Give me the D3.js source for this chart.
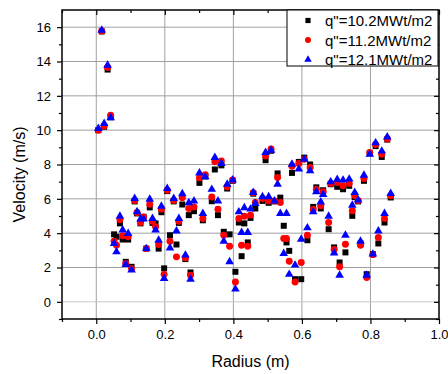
<!DOCTYPE html>
<html>
<head>
<meta charset="utf-8">
<script src="https://cdn.jsdelivr.net/npm/d3@7"></script>
<style>
  body { margin: 0; background: #fff; }
  svg text { font-family: "Liberation Sans", Arial, sans-serif; fill: #000; }
  .axis path { display: none; }
  .axis line { stroke: #000; stroke-width: 1.2; }
  .axis text { font-size: 13px; }
</style>
</head>
<body>
<div id="chart"></div>
<script>
// radius (m), shared by the three heat flux series
const radius = [0.006,0.016,0.023,0.033,0.042,0.052,0.059,0.069,0.077,0.086,
  0.093,0.103,0.112,0.119,0.129,0.138,0.146,0.156,0.164,0.173,
  0.182,0.19,0.198,0.207,0.215,0.226,0.234,0.241,0.251,0.26,
  0.27,0.275,0.285,0.301,0.311,0.318,0.337,0.346,0.355,0.365,
  0.372,0.382,0.389,0.398,0.406,0.416,0.424,0.432,0.442,0.45,
  0.458,0.464,0.485,0.494,0.503,0.51,0.52,0.529,0.537,0.547,
  0.555,0.563,0.571,0.58,0.591,0.598,0.607,0.616,0.624,0.633,
  0.642,0.655,0.662,0.678,0.684,0.694,0.703,0.71,0.72,0.727,
  0.738,0.747,0.754,0.764,0.771,0.781,0.789,0.798,0.807,0.815,
  0.823,0.833,0.841,0.849,0.859];
// velocity (m/s), q"=10.2 MWt/m2
const v102 = [10.0,15.75,10.2,13.53,10.75,3.93,3.79,4.57,3.63,2.33,
  3.63,2.04,5.85,5.15,4.57,4.95,3.1,5.5,4.6,4.57,
  3.1,5.22,1.95,6.45,3.88,5.85,3.34,4.6,5.67,2.49,
  5.05,1.71,5.28,6.93,4.75,7.3,5.86,7.71,5.05,7.95,
  4.08,6.6,3.93,7.05,1.75,4.62,2.66,4.57,3.46,4.89,
  6.3,5.44,5.88,8.25,5.77,8.8,5.85,7.48,6.07,4.43,
  3.46,2.97,7.51,1.32,8.15,1.32,8.4,3.59,8.0,5.53,
  6.67,5.44,6.5,4.23,6.85,3.17,6.7,2.29,6.56,2.88,
  6.76,5.01,6.1,5.85,3.4,7.05,1.61,8.65,2.78,9.07,
  3.4,8.44,4.62,9.45,6.08];
// velocity (m/s), q"=11.2 MWt/m2
const v112 = [10.0,15.78,10.25,13.65,10.87,3.53,3.3,4.78,3.85,2.24,
  3.79,1.95,5.9,5.2,4.62,4.95,3.1,5.68,4.7,4.37,
  3.34,5.4,1.6,6.5,3.53,5.9,2.62,4.7,6.06,2.56,
  5.44,1.55,5.53,7.22,4.86,7.4,6.11,8.16,5.4,8.2,
  3.88,6.7,3.24,7.1,1.16,4.86,3.3,4.99,3.24,5.05,
  6.35,5.79,6.02,8.5,5.88,8.9,5.88,7.24,5.79,3.69,
  3.69,2.37,7.9,1.16,8.06,2.29,8.3,3.88,7.83,5.38,
  6.55,5.59,6.41,4.62,6.9,3.05,6.95,2.04,6.76,3.36,
  6.9,5.3,6.2,5.9,3.3,7.18,1.42,8.7,2.75,9.17,
  3.75,8.6,4.86,9.48,6.18];
// velocity (m/s), q"=12.1 MWt/m2
const v121 = [10.1,15.82,10.39,13.78,10.72,3.4,2.91,4.99,4.18,2.18,
  3.98,1.85,6.02,5.25,4.82,4.82,3.1,5.98,4.86,4.18,
  3.59,5.57,1.36,6.6,3.14,6.02,4.13,4.86,6.3,2.72,
  5.77,1.32,5.88,7.51,5.15,7.28,6.55,8.41,5.88,8.06,
  3.53,6.85,2.33,7.1,0.74,5.24,4.04,5.48,4.04,5.4,
  6.37,5.73,6.12,8.7,6.12,8.83,5.88,6.85,5.15,2.82,
  5.15,1.6,8.02,2.14,7.73,3.65,8.3,4.31,7.63,5.24,
  6.41,5.82,6.25,4.99,6.99,2.85,7.13,1.55,7.09,3.88,
  7.15,5.63,6.37,5.93,3.53,7.38,1.55,8.6,2.78,9.26,
  4.13,8.78,5.15,9.6,6.31];

const seriesNames = ['q"=10.2MWt/m2', 'q"=11.2MWt/m2', 'q"=12.1MWt/m2'];
const seriesColors = ['#000000', '#ff0000', '#0000ff'];
const seriesSymbols = [d3.symbolSquare, d3.symbolCircle, d3.symbolTriangle];
const seriesSizes = [36, 38, 32];
const xTicks = [0.0, 0.2, 0.4, 0.6, 0.8, 1.0];
const yTicks = [0, 2, 4, 6, 8, 10, 12, 14, 16];

const width = 448, height = 374;
const mLeft = 62, mRight = 439, mTop = 10, mBottom = 319;

const svg = d3.select('#chart').append('svg')
  .attr('width', width).attr('height', height);

const x = d3.scaleLinear().domain([-0.1, 1.0]).range([mLeft, mRight]);
const y = d3.scaleLinear().domain([-1, 17]).range([mBottom, mTop]);

// grid
svg.append('g').selectAll('line').data(xTicks.slice(0, -1)).enter().append('line')
  .attr('x1', d => x(d)).attr('x2', d => x(d)).attr('y1', mTop).attr('y2', mBottom)
  .attr('stroke', '#a0a0a0').attr('stroke-width', 1);
svg.append('g').selectAll('line').data(yTicks).enter().append('line')
  .attr('x1', mLeft).attr('x2', mRight).attr('y1', d => y(d)).attr('y2', d => y(d))
  .attr('stroke', d => d === 0 ? '#c8c8c8' : '#a0a0a0').attr('stroke-width', 1);

const xMinor = d3.range(-0.1, 1.0, 0.2).map(d => +d.toFixed(1));
const yMinor = d3.range(-1, 17, 2);

// bottom axis (outward)
svg.append('g').attr('class', 'axis').attr('transform', `translate(0,${mBottom})`)
  .call(d3.axisBottom(x).tickValues(xTicks).tickSize(5).tickPadding(6).tickFormat(d3.format('.1f')));
svg.append('g').attr('class', 'axis').attr('transform', `translate(0,${mBottom})`)
  .call(d3.axisBottom(x).tickValues(xMinor).tickSize(3).tickFormat(''));
// left axis (outward)
svg.append('g').attr('class', 'axis').attr('transform', `translate(${mLeft},0)`)
  .call(d3.axisLeft(y).tickValues(yTicks).tickSize(5).tickPadding(6));
svg.append('g').attr('class', 'axis').attr('transform', `translate(${mLeft},0)`)
  .call(d3.axisLeft(y).tickValues(yMinor).tickSize(3).tickFormat(''));
// top and right axes, ticks inward, no labels
svg.append('g').attr('class', 'axis').attr('transform', `translate(0,${mTop})`)
  .call(d3.axisTop(x).tickValues(xTicks).tickSize(-5).tickFormat(''));
svg.append('g').attr('class', 'axis').attr('transform', `translate(0,${mTop})`)
  .call(d3.axisTop(x).tickValues(xMinor).tickSize(-3).tickFormat(''));
svg.append('g').attr('class', 'axis').attr('transform', `translate(${mRight},0)`)
  .call(d3.axisRight(y).tickValues(yTicks).tickSize(-5).tickFormat(''));
svg.append('g').attr('class', 'axis').attr('transform', `translate(${mRight},0)`)
  .call(d3.axisRight(y).tickValues(yMinor).tickSize(-3).tickFormat(''));

// frame
svg.append('rect').attr('x', mLeft).attr('y', mTop)
  .attr('width', mRight - mLeft).attr('height', mBottom - mTop)
  .attr('fill', 'none').attr('stroke', '#000').attr('stroke-width', 1.5);

// markers
const allSeries = [v102, v112, v121];
allSeries.forEach(function(vals, i) {
  const sym = d3.symbol().type(seriesSymbols[i]).size(seriesSizes[i]);
  svg.append('g').selectAll('path').data(vals).enter().append('path')
    .attr('d', sym)
    .attr('fill', seriesColors[i])
    .attr('transform', (d, j) => `translate(${x(radius[j])},${y(d)})`);
});

// axis titles
svg.append('text').attr('x', (mLeft + mRight) / 2).attr('y', 367)
  .attr('text-anchor', 'middle').attr('font-size', 16).text('Radius (m)');
svg.append('text').attr('transform', `translate(25,${(mTop + mBottom) / 2 + 10}) rotate(-90)`)
  .attr('text-anchor', 'middle').attr('font-size', 16).text('Velocity (m/s)');

// legend
const lg = svg.append('g');
lg.append('rect').attr('x', 287).attr('y', mTop).attr('width', 151).attr('height', 56)
  .attr('fill', '#fff').attr('stroke', '#000').attr('stroke-width', 1);
seriesNames.forEach(function(name, i) {
  const cy = 20.5 + i * 19.5;
  lg.append('path').attr('d', d3.symbol().type(seriesSymbols[i]).size(seriesSizes[i] * 0.75)())
    .attr('fill', seriesColors[i]).attr('transform', `translate(308,${cy})`);
  lg.append('text').attr('x', 325).attr('y', cy + 5.5).attr('font-size', 15).text(name);
});
</script>
</body>
</html>
